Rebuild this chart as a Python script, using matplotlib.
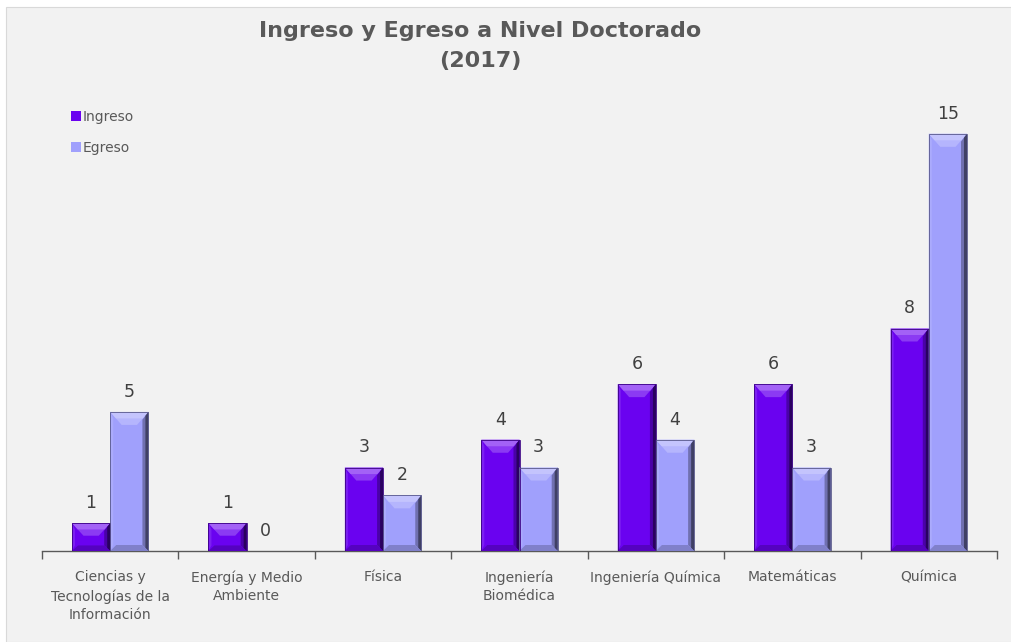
import numpy as np
import matplotlib
matplotlib.use("Agg")
import matplotlib.pyplot as plt
from matplotlib.patches import Polygon, Rectangle

# ----------------------------------------------------------------------
# Data
# ----------------------------------------------------------------------
categories = [
    "Ciencias y\nTecnologías de la\nInformación",
    "Energía y Medio\nAmbiente",
    "Física",
    "Ingeniería\nBiomédica",
    "Ingeniería Química",
    "Matemáticas",
    "Química",
]
ingreso = [1, 1, 3, 4, 6, 6, 8]
egreso = [5, 0, 2, 3, 4, 3, 15]
series_names = ["Ingreso", "Egreso"]

TITLE = "Ingreso y Egreso a Nivel Doctorado\n(2017)"
COLOR_ING = "#6A02F0"
COLOR_EGR = "#A0A0FC"
TEXT_GRAY = "#595959"

W, H, DPI = 1011, 642, 100


def shade(color, f):
    """Lighten (f>0) or darken (f<0) a hex colour."""
    c = np.array(matplotlib.colors.to_rgb(color))
    if f >= 0:
        c = c + (1 - c) * f
    else:
        c = c * (1 + f)
    return tuple(np.clip(c, 0, 1))


def poly(ax, pts, col):
    ax.add_patch(Polygon(pts, closed=True, fc=col, ec="none", zorder=3))


def add_bevel(ax, patch, color, px_x, px_y):
    """Draw an Excel-like bevel over a bar patch."""
    x0, y0 = patch.get_x(), patch.get_y()
    w, h = patch.get_width(), patch.get_height()
    if h <= 0:
        return
    x1, y1 = x0 + w, y0 + h
    s = 6 / px_x                      # side bevel width
    t = min(13 / px_y, h * 0.45)      # top bevel depth
    b = min(6 / px_y, h * 0.2)        # bottom bevel depth
    tin = 0.3 * w                     # top trapezoid inset
    # top bevel (two tones, lighter at the top edge)
    poly(ax, [(x0, y1), (x1, y1), (x1 - tin, y1 - t), (x0 + tin, y1 - t)],
         shade(color, 0.22))
    poly(ax, [(x0, y1), (x1, y1), (x1 - tin / 2, y1 - t / 2), (x0 + tin / 2, y1 - t / 2)],
         shade(color, 0.38))
    # left side
    poly(ax, [(x0, y1), (x0 + s / 2, y1 - t * 0.5), (x0 + s / 2, y0 + b), (x0, y0)],
         shade(color, 0.12))
    # right side (dark gradient)
    poly(ax, [(x1, y1), (x1 - s, y1 - t * 0.6), (x1 - s, y0 + b), (x1, y0)],
         shade(color, -0.3))
    poly(ax, [(x1, y1), (x1 - s / 2, y1 - t * 0.3), (x1 - s / 2, y0 + b / 2), (x1, y0)],
         shade(color, -0.6))
    # bottom
    poly(ax, [(x0, y0), (x0 + s, y0 + b), (x1 - s, y0 + b), (x1, y0)],
         shade(color, -0.2))
    ax.add_patch(Rectangle((x0, y0), w, h, fill=False,
                           ec=shade(color, -0.45), lw=0.6, zorder=4))


def main():
    fig = plt.figure(figsize=(W / DPI, H / DPI), dpi=DPI)
    fig.patch.set_facecolor("white")
    fig.patches.append(Rectangle((6 / W, 0), 1, 635 / H, transform=fig.transFigure,
                                 fc="#F2F2F2", ec="#D9D9D9", lw=0.8, zorder=-10))

    ax = fig.add_axes([42 / W, 91 / H, (997 - 42) / W, (551 - 106) / H])
    ax.set_facecolor("none")

    n = len(categories)
    x = np.arange(n)
    bw = 0.28
    b1 = ax.bar(x - bw / 2, ingreso, bw, color=COLOR_ING, label=series_names[0], zorder=2)
    b2 = ax.bar(x + bw / 2, egreso, bw, color=COLOR_EGR, label=series_names[1], zorder=2)

    ax.set_xlim(-0.5, n - 0.5)
    ax.set_ylim(0, 16)

    # pixel scale for bevels
    p0 = ax.transData.transform((0, 0))
    p1 = ax.transData.transform((1, 1))
    px_x, px_y = p1[0] - p0[0], p1[1] - p0[1]
    for bars, col in ((b1, COLOR_ING), (b2, COLOR_EGR)):
        for p in bars:
            add_bevel(ax, p, col, px_x, px_y)
        for p in bars:
            ax.annotate(f"{int(p.get_height())}",
                        (p.get_x() + p.get_width() / 2, p.get_height()),
                        xytext=(0, 8), textcoords="offset points",
                        ha="center", va="bottom", fontsize=12.5, color="#404040")

    # axes styling
    for sp in ("top", "right", "left"):
        ax.spines[sp].set_visible(False)
    ax.spines["bottom"].set_color("#595959")
    ax.spines["bottom"].set_linewidth(1.0)
    ax.set_yticks([])
    ax.set_xticks(x)
    ax.set_xticklabels(categories, fontsize=10, color=TEXT_GRAY, linespacing=1.4,
                       va="top")
    ax.tick_params(axis="x", which="major", length=0, pad=14)
    ax.set_xticks(np.arange(n + 1) - 0.5, minor=True)
    ax.tick_params(axis="x", which="minor", length=6, color="#595959", width=1.0)

    fig.text(480 / W, 1 - 46 / H, TITLE, ha="center", va="center",
             fontsize=16, fontweight="bold", color=TEXT_GRAY, linespacing=1.6)

    fig.legend(handles=[b1, b2], labels=series_names, loc="upper left",
               bbox_to_anchor=(71 / W, 1 - 110 / H), frameon=False,
               fontsize=10, labelcolor=TEXT_GRAY, handlelength=0.7,
               handleheight=0.7, handletextpad=0.15, labelspacing=1.2,
               borderaxespad=0, borderpad=0)

    fig.savefig("out.png", dpi=DPI, facecolor=fig.get_facecolor())
    plt.close(fig)


if __name__ == "__main__":
    main()
